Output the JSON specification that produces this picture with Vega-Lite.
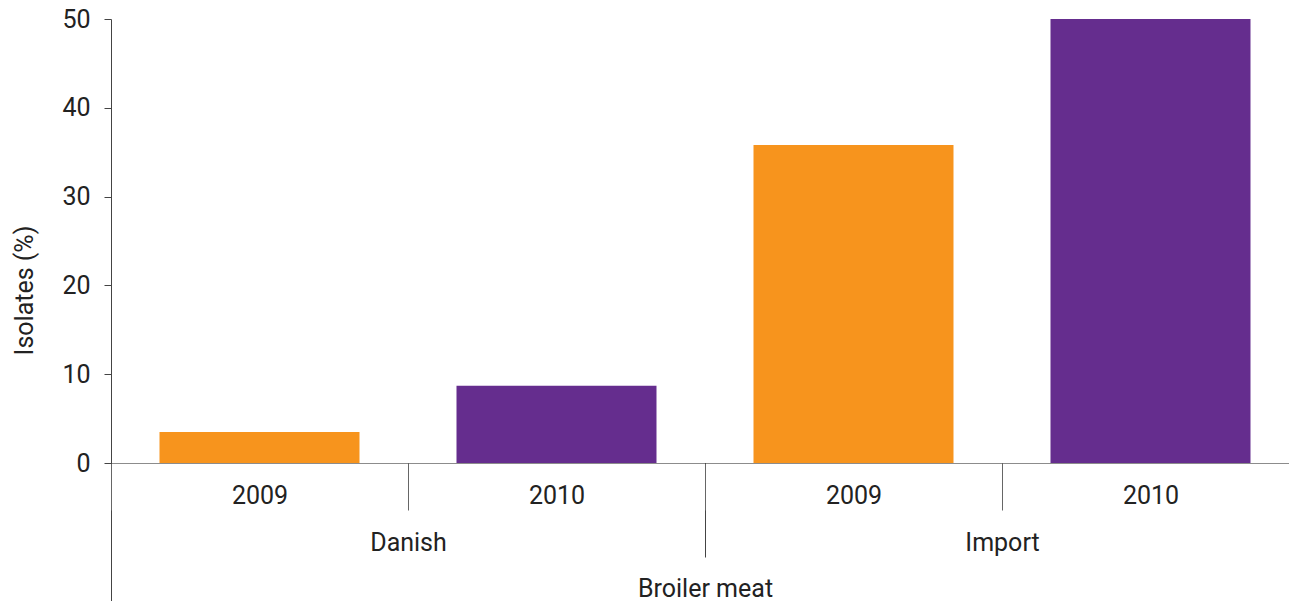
{
  "$schema": "https://vega.github.io/schema/vega-lite/v6.json",
  "width": 1188,
  "height": 444,
  "autosize": {"type": "none"},
  "padding": {"left": 111, "top": 19, "right": 0, "bottom": 138},
  "background": "white",
  "config": {
    "view": {"stroke": null},
    "font": "Roboto",
    "axis": {"labelFont": "Roboto", "titleFont": "Roboto", "labelFontSize": 25, "labelColor": "#222", "grid": false}
  },
  "data": {"values": [
    {"meat": "Broiler meat", "source": "Danish", "year": "2009", "bar": "Danish 2009", "pct": 3.5},
    {"meat": "Broiler meat", "source": "Danish", "year": "2010", "bar": "Danish 2010", "pct": 8.7},
    {"meat": "Broiler meat", "source": "Import", "year": "2009", "bar": "Import 2009", "pct": 35.8},
    {"meat": "Broiler meat", "source": "Import", "year": "2010", "bar": "Import 2010", "pct": 50}
  ]},
  "layer": [
    {
      "mark": {"type": "bar", "width": {"band": 0.6734}},
      "encoding": {
        "x": {"field": "bar", "type": "nominal", "sort": null,
          "scale": {"type": "band", "paddingInner": 0, "paddingOuter": 0},
          "axis": {"title": null, "orient": "bottom", "labelAngle": 0, "tickBand": "extent", "tickSize": 47, "tickColor": "#666",
            "labelPadding": -7, "labelBaseline": "alphabetic", "labelExpr": "split(datum.label,' ')[1]",
            "domainColor": "#000", "domainOpacity": 0.45, "zindex": 1}},
        "y": {"field": "pct", "type": "quantitative",
          "scale": {"domain": [0, 50], "nice": false},
          "axis": {"values": [0, 10, 20, 30, 40, 50], "title": "Isolates (%)", "titleFontSize": 25, "titleFontWeight": "normal",
            "titleColor": "#222", "titlePadding": 24, "titleY": 271, "tickSize": 7, "tickColor": "#444", "domainColor": "#444",
            "labelPadding": 14}},
        "color": {"field": "year", "type": "nominal",
          "scale": {"domain": ["2009", "2010"], "range": ["#F7941D", "#652D8E"]}, "legend": null}
      }
    },
    {
      "mark": {"type": "point", "opacity": 0},
      "encoding": {
        "x": {"field": "source", "type": "nominal", "sort": null,
          "scale": {"type": "band", "paddingInner": 0, "paddingOuter": 0},
          "axis": {"title": null, "orient": "bottom", "domain": false, "labelAngle": 0, "tickBand": "extent", "tickSize": 94,
            "tickColor": "#444", "labelPadding": -7, "labelBaseline": "alphabetic"}},
        "y": {"field": "pct", "type": "quantitative"}
      }
    },
    {
      "mark": {"type": "point", "opacity": 0},
      "encoding": {
        "x": {"field": "meat", "type": "nominal",
          "scale": {"type": "band", "paddingInner": 0, "paddingOuter": 0},
          "axis": {"title": null, "orient": "bottom", "domain": false, "labelAngle": 0, "tickBand": "extent", "tickSize": 138,
            "tickColor": "#444", "labelPadding": -5, "labelBaseline": "alphabetic"}},
        "y": {"field": "pct", "type": "quantitative"}
      }
    }
  ],
  "resolve": {"scale": {"x": "independent"}, "axis": {"x": "independent"}}
}
